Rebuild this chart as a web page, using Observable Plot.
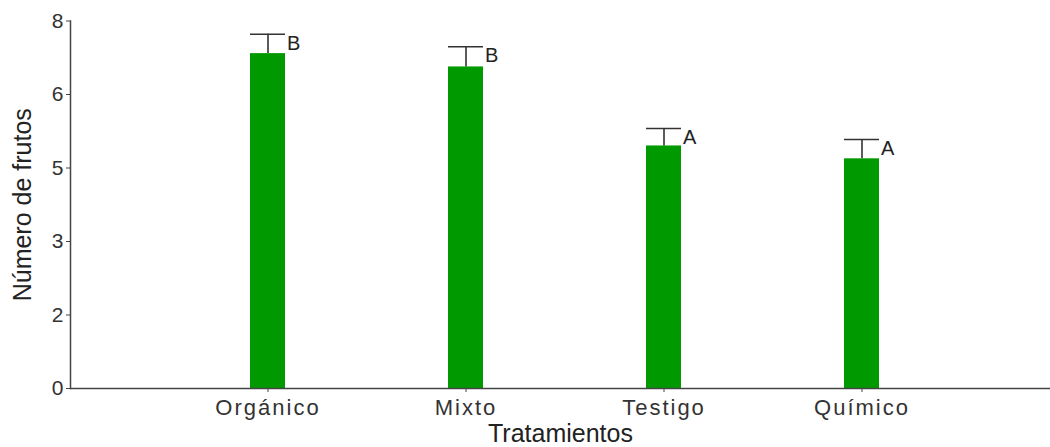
<!DOCTYPE html>
<html>
<head>
<meta charset="utf-8">
<script src="https://cdn.jsdelivr.net/npm/d3@7"></script>
<script src="https://cdn.jsdelivr.net/npm/@observablehq/plot@0.6"></script>
<style>
  html, body { margin: 0; padding: 0; background: #fff; }
  #chart svg { display: block; }
</style>
</head>
<body>
<div id="chart"></div>
<script>
const tratamientos = ["Orgánico", "Mixto", "Testigo", "Químico"];
const medias = [7.29, 7.00, 5.28, 5.00];
const superiores = [7.71, 7.44, 5.66, 5.42];
const letras = ["B", "B", "A", "A"];
const yTicks = [0, 1.6, 3.2, 4.8, 6.4, 8];
const yTickLabels = ["0", "2", "3", "5", "6", "8"];

const data = tratamientos.map((t, i) => ({
  t, m: medias[i], s: superiores[i], l: letras[i]
}));

const font = "'Liberation Sans', Arial, sans-serif";
const axisColor = "#444";

const chart = Plot.plot({
  width: 1050,
  height: 447,
  marginLeft: 70,
  marginRight: 0,
  marginTop: 20.5,
  marginBottom: 59,
  style: { fontFamily: font, background: "#fff", color: "#333", overflow: "visible" },
  x: { type: "band", domain: tratamientos, range: [70, 1060], paddingInner: 0.823, paddingOuter: 0.9115 },
  y: { domain: [0, 8] },
  marks: [
    Plot.barY(data, { x: "t", y: "m", fill: "#009a00" }),
    Plot.ruleX(data, { x: "t", y1: "m", y2: "s", stroke: "#333", strokeWidth: 1.6 }),
    Plot.tickY(data, { x: "t", y: "s", stroke: "#333", strokeWidth: 1.6 }),
    Plot.text(data, { x: "t", y: "s", text: "l", dx: 19, dy: 9, textAnchor: "start", fontSize: 20, fill: "#222", fontFamily: font }),
    Plot.ruleY([0], { stroke: axisColor, strokeWidth: 1.5 }),
    Plot.frame({ anchor: "left", stroke: axisColor, strokeWidth: 1.5 }),
    Plot.axisY({
      ticks: yTicks,
      tickFormat: (d) => yTickLabels[yTicks.indexOf(d)],
      tickSize: 4,
      tickPadding: 3,
      fontSize: 21,
      fill: "#333",
      stroke: axisColor,
      label: "Número de frutos",
      labelAnchor: "center",
      labelArrow: "none",
      labelOffset: 57
    }),
    Plot.axisX({
      tickSize: 4,
      tickPadding: 7,
      fontSize: 22,
      fill: "#333",
      stroke: axisColor,
      label: "Tratamientos",
      labelAnchor: "center",
      labelOffset: 53
    })
  ]
});

document.getElementById("chart").appendChild(chart);

d3.select(chart).selectAll("g[aria-label='x-axis tick label'] text").style("letter-spacing", "2px");
d3.select(chart).selectAll("g[aria-label='x-axis label'] text").style("font-size", "25px").style("fill", "#222");
d3.select(chart).selectAll("g[aria-label='y-axis label'] text").style("font-size", "25px").style("fill", "#222");
</script>
</body>
</html>
